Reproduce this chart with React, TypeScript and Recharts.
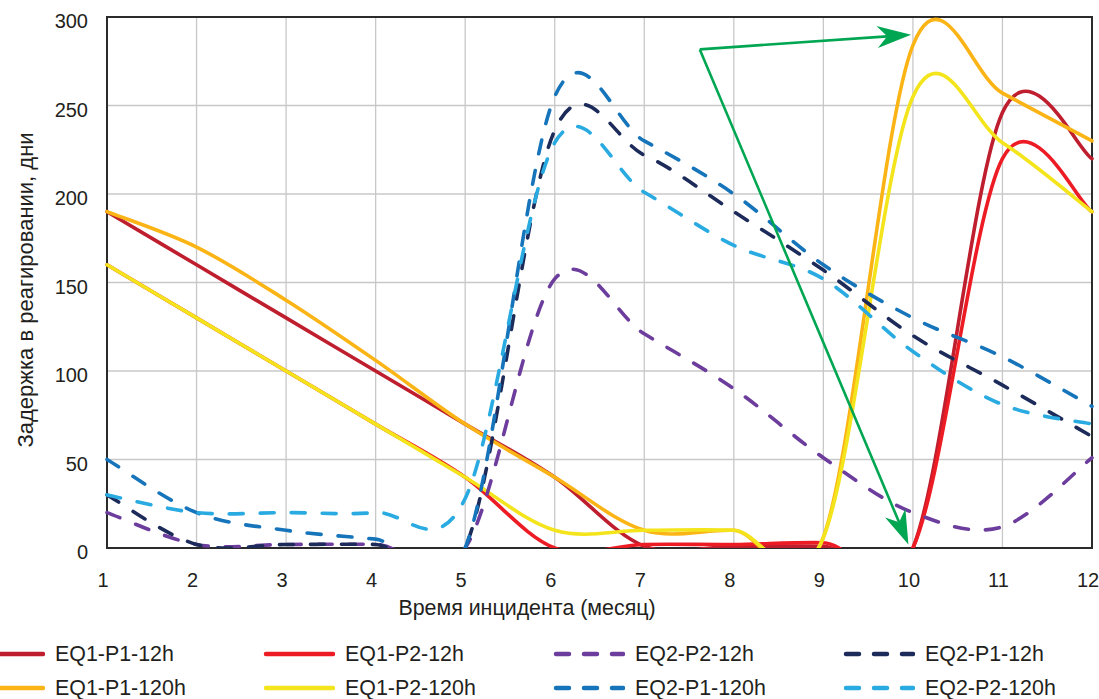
import {
  CartesianGrid,
  Legend,
  Line,
  LineChart,
  ReferenceArea,
  ReferenceLine,
  XAxis,
  YAxis,
} from 'recharts';

const MONTHS = [1, 2, 3, 4, 5, 6, 7, 8, 9, 10, 11, 12];
const Y_TICKS = [0, 50, 100, 150, 200, 250, 300];

const EQ1_P1_12H = [190, 160, 130, 100, 70, 40, 1, 1, 1, 0, 246, 220];
const EQ1_P2_12H = [160, 130, 100, 70, 40, 0, 2, 2, 3, 0, 220, 190];
const EQ2_P2_12H = [20, 2, 2, 2, 0, 152, 121, 90, 51, 20, 12, 51];
const EQ2_P1_12H = [30, 2, 2, 2, 0, 236, 222, 190, 157, 120, 92, 63];
const EQ1_P1_120H = [190, 170, 140, 106, 70, 40, 10, 10, 6, 284, 257, 230];
const EQ1_P2_120H = [160, 130, 100, 70, 40, 10, 10, 10, 6, 255, 229, 190];
const EQ2_P1_120H = [50, 20, 10, 5, 0, 255, 230, 200, 160, 130, 108, 80];
const EQ2_P2_120H = [30, 20, 20, 20, 28, 229, 201, 171, 152, 111, 81, 70];

// annotation arrows (data coords): common tail, two heads
const ARROW_TAIL = { x: 7.62, y: 281.7 };
const ARROW_HEADS = [
  { x: 9.98, y: 290 },
  { x: 9.95, y: 2 },
];

const FONT = '"Liberation Sans", Arial, sans-serif';
const TEXT = '#231f20';

type Series = {
  key: string;
  name: string;
  color: string;
  dashed: boolean;
  values: number[];
};

const EQ1P1_12: Series = { key: 'eq1p1_12', name: 'EQ1-P1-12h', color: '#be1e2d', dashed: false, values: EQ1_P1_12H };
const EQ1P2_12: Series = { key: 'eq1p2_12', name: 'EQ1-P2-12h', color: '#ed1c24', dashed: false, values: EQ1_P2_12H };
const EQ2P2_12: Series = { key: 'eq2p2_12', name: 'EQ2-P2-12h', color: '#6c3d9c', dashed: true, values: EQ2_P2_12H };
const EQ2P1_12: Series = { key: 'eq2p1_12', name: 'EQ2-P1-12h', color: '#1c2b5a', dashed: true, values: EQ2_P1_12H };
const EQ1P1_120: Series = { key: 'eq1p1_120', name: 'EQ1-P1-120h', color: '#fbb416', dashed: false, values: EQ1_P1_120H };
const EQ1P2_120: Series = { key: 'eq1p2_120', name: 'EQ1-P2-120h', color: '#f4e41c', dashed: false, values: EQ1_P2_120H };
const EQ2P1_120: Series = { key: 'eq2p1_120', name: 'EQ2-P1-120h', color: '#1674ba', dashed: true, values: EQ2_P1_120H };
const EQ2P2_120: Series = { key: 'eq2p2_120', name: 'EQ2-P2-120h', color: '#29abe2', dashed: true, values: EQ2_P2_120H };

const LEGEND_ORDER = [EQ1P1_12, EQ1P2_12, EQ2P2_12, EQ2P1_12, EQ1P1_120, EQ1P2_120, EQ2P1_120, EQ2P2_120];
const DRAW_ORDER = [EQ1P1_12, EQ1P2_12, EQ1P1_120, EQ1P2_120, EQ2P2_12, EQ2P1_12, EQ2P1_120, EQ2P2_120];

const data = MONTHS.map((month, i) => {
  const row: Record<string, number> = { month };
  LEGEND_ORDER.forEach((s) => {
    row[s.key] = s.values[i];
  });
  return row;
});

// Excel-like smoothed line (uniform Catmull-Rom as cubic beziers)
const smoothCurve = (context: any) => {
  let pts: number[][] = [];
  return {
    areaStart() {},
    areaEnd() {},
    lineStart() {
      pts = [];
    },
    point(x: number, y: number) {
      pts.push([+x, +y]);
    },
    lineEnd() {
      const n = pts.length;
      if (!n) return;
      context.moveTo(pts[0][0], pts[0][1]);
      for (let i = 0; i < n - 1; i++) {
        const p0 = pts[Math.max(i - 1, 0)];
        const p1 = pts[i];
        const p2 = pts[i + 1];
        const p3 = pts[Math.min(i + 2, n - 1)];
        context.bezierCurveTo(
          p1[0] + (p2[0] - p0[0]) / 6,
          p1[1] + (p2[1] - p0[1]) / 6,
          p2[0] - (p3[0] - p1[0]) / 6,
          p2[1] - (p3[1] - p1[1]) / 6,
          p2[0],
          p2[1]
        );
      }
    },
  };
};

const ArrowShape = (props: any) => {
  const { x1, y1, x2, y2 } = props;
  const ang = Math.atan2(y2 - y1, x2 - x1);
  const dx = Math.cos(ang);
  const dy = Math.sin(ang);
  const len = 34;
  const half = 11;
  const notch = 24;
  const bx = x2 - len * dx;
  const by = y2 - len * dy;
  const nx = x2 - notch * dx;
  const ny = y2 - notch * dy;
  const pts = [
    [x2, y2],
    [bx - half * dy, by + half * dx],
    [nx, ny],
    [bx + half * dy, by - half * dx],
  ]
    .map((p) => p.join(','))
    .join(' ');
  return (
    <g>
      <line x1={x1} y1={y1} x2={nx} y2={ny} stroke='#00a651' strokeWidth={2.6} />
      <polygon points={pts} fill='#00a651' />
    </g>
  );
};

const XTick = ({ x, y, payload }: any) => (
  <text x={x - 4} y={y} dy='0.71em' textAnchor='middle' fontSize={20} fontFamily={FONT} fill={TEXT}>
    {payload.value}
  </text>
);

const YTick = ({ x, y, payload }: any) => (
  <text x={x} y={y + 4} dy='0.355em' textAnchor='end' fontSize={20} fontFamily={FONT} fill={TEXT}>
    {payload.value}
  </text>
);

const XTitle = () => (
  <text x={527} y={615} textAnchor='middle' fontSize={21.4} fontFamily={FONT} fill={TEXT}>
    Время инцидента (месяц)
  </text>
);

const YTitle = () => (
  <text
    x={33}
    y={290}
    transform='rotate(-90 33 290)'
    textAnchor='middle'
    fontSize={22}
    fontFamily={FONT}
    fill={TEXT}
  >
    Задержка в реагировании, дни
  </text>
);

const LEGEND_COL_X = [-27, 263, 553, 843];
const LEGEND_ROW_Y = [33.5, 68];

const renderLegend = () => (
  <div style={{ position: 'relative', width: 1099, height: 79, fontFamily: FONT, fontSize: 21.4, color: TEXT }}>
    {LEGEND_ORDER.map((s, i) => (
      <div
        key={s.key}
        style={{
          position: 'absolute',
          left: LEGEND_COL_X[i % 4],
          top: LEGEND_ROW_Y[Math.floor(i / 4)] - 12,
          height: 24,
          display: 'flex',
          alignItems: 'center',
          whiteSpace: 'nowrap',
        }}
      >
        <svg width={72} height={8} style={{ display: 'block' }}>
          <line
            x1={3}
            y1={4}
            x2={70}
            y2={4}
            stroke={s.color}
            strokeWidth={4.5}
            strokeLinecap='round'
            strokeDasharray={s.dashed ? '13 15' : undefined}
          />
        </svg>
        <span style={{ marginLeft: 10, lineHeight: '24px' }}>{s.name}</span>
      </div>
    ))}
  </div>
);

export default function App() {
  return (
    <div style={{ position: 'absolute', left: 0, top: 0, width: 1099, height: 699, overflow: 'hidden', background: '#fff' }}>
      <LineChart width={1099} height={699} data={data} margin={{ top: 17, right: 7, bottom: 0, left: 0 }}>
        <CartesianGrid stroke='#c8c8c8' strokeWidth={1.3} />
        <XAxis
          dataKey='month'
          type='number'
          domain={[1, 12]}
          ticks={MONTHS}
          interval={0}
          height={72}
          tickLine={false}
          axisLine={false}
          tickSize={6}
          tickMargin={19}
          tick={<XTick />}
          label={<XTitle />}
        />
        <YAxis
          type='number'
          domain={[0, 300]}
          ticks={Y_TICKS}
          interval={0}
          allowDataOverflow
          width={107}
          tickLine={false}
          axisLine={false}
          tickSize={6}
          tickMargin={13}
          tick={<YTick />}
          label={<YTitle />}
        />
        <ReferenceArea x1={1} x2={12} y1={0} y2={300} fill='none' stroke='#2b2b2b' strokeWidth={2} />
        {DRAW_ORDER.map((s) => (
          <Line
            key={s.key}
            dataKey={s.key}
            name={s.name}
            type={smoothCurve as any}
            stroke={s.color}
            strokeWidth={3.6}
            strokeLinecap='round'
            strokeDasharray={s.dashed ? '14 17' : undefined}
            dot={false}
            activeDot={false}
            isAnimationActive={false}
          />
        ))}
        {ARROW_HEADS.map((h, i) => (
          <ReferenceLine key={i} segment={[ARROW_TAIL, h]} shape={ArrowShape} />
        ))}
        <Legend
          verticalAlign='bottom'
          height={79}
          content={renderLegend}
          wrapperStyle={{ left: 0, width: 1099 }}
        />
      </LineChart>
    </div>
  );
}
